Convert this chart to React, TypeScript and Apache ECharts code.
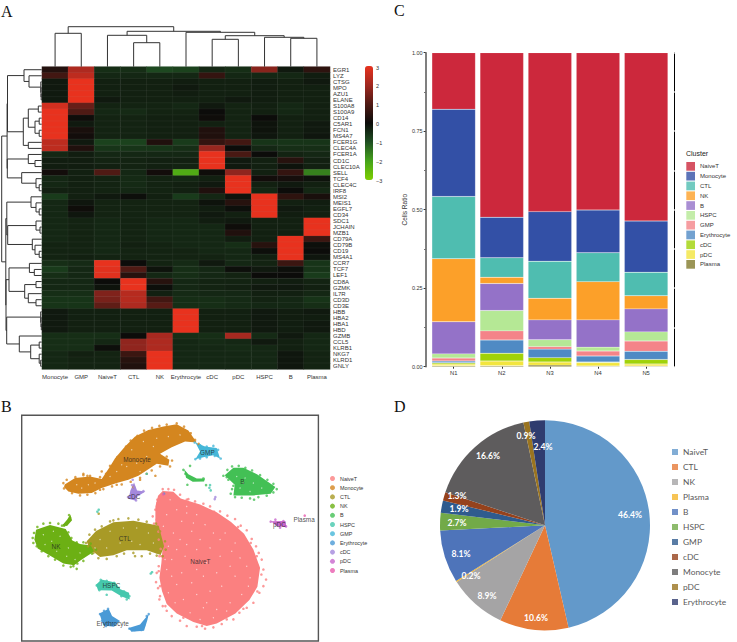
import React, { useEffect, useRef } from "react";
import * as echarts from "echarts";

const SANS = "Liberation Sans";
const SERIF = "Liberation Serif";
const OFFICE = "Lato";

// ---------- Panel A ----------
const genes = ["EGR1","LYZ","CTSG","MPO","AZU1","ELANE","S100A8","S100A9","CD14","C5AR1","FCN1","MS4A7","FCER1G","CLEC4A","FCER1A","CD1C","CLEC10A","SELL","TCF4","CLEC4C","IRF8","MSI2","MEIS1","EGFL7","CD34","SDC1","JCHAIN","MZB1","CD79A","CD79B","CD19","MS4A1","CCR7","TCF7","LEF1","CD8A","GZMK","IL7R","CD3D","CD3E","HBB","HBA2","HBA1","HBD","GZMB","CCL5","KLRB1","NKG7","KLRD1","GNLY"];
const heatColumns = ["Monocyte","GMP","NaiveT","CTL","NK","Erythrocyte","cDC","pDC","HSPC","B","Plasma"];
const expression = [
  [0.35,2.2,-0.5,-0.5,-0.9,-0.8,-0.4,-0.5,1.7,-0.2,0.5],
  [0.8,2.4,-0.4,-0.4,-0.4,-0.4,0.6,-0.4,-0.4,-0.4,-0.25],
  [-0.2,3,-0.3,-0.3,-0.3,-0.25,-0.3,-0.3,-0.25,-0.3,-0.2],
  [-0.2,3,-0.3,-0.3,-0.3,-0.2,-0.3,-0.3,-0.25,-0.3,-0.3],
  [-0.2,3,-0.3,-0.3,-0.3,-0.25,-0.3,-0.3,-0.25,-0.3,-0.3],
  [-0.2,3,-0.2,-0.3,-0.3,-0.3,-0.3,-0.2,-0.25,-0.3,-0.3],
  [2.7,1.3,-0.35,-0.35,-0.35,-0.4,-0.2,-0.35,-0.3,-0.4,-0.3],
  [3,1,-0.4,-0.45,-0.35,-0.35,0,-0.35,-0.3,-0.4,-0.3],
  [3,0.05,-0.35,-0.35,-0.3,-0.3,0.05,-0.35,0,-0.3,-0.3],
  [3,-0.2,-0.35,-0.35,-0.3,-0.3,-0.3,-0.35,-0.1,-0.3,-0.2],
  [3,0.2,-0.35,-0.35,-0.3,-0.3,0.3,-0.35,-0.1,-0.3,-0.2],
  [3,0.1,-0.35,-0.35,-0.3,-0.3,0.3,-0.35,-0.15,-0.3,-0.15],
  [2.4,-0.2,-0.8,-0.8,0.3,-0.7,0.6,0.8,-0.6,-0.6,-0.6],
  [2.4,0.3,-0.6,-0.6,-0.6,-0.5,1.9,0,-0.4,-0.5,-0.5],
  [-0.4,-0.25,-0.4,-0.4,-0.4,-0.4,3,0.9,0,-0.35,-0.4],
  [-0.25,-0.25,-0.35,-0.35,-0.3,-0.3,3,-0.2,-0.3,0.4,-0.3],
  [-0.25,-0.25,-0.3,-0.35,-0.3,-0.35,3,-0.2,-0.3,-0.1,-0.3],
  [0.1,-0.3,1,-0.4,0.1,-2.2,0.05,1.8,-0.3,0.6,-1.6],
  [-0.4,-0.3,-0.35,-0.45,-0.35,-0.4,-0.3,3,0.1,0.15,-0.1],
  [-0.4,-0.3,-0.35,-0.45,-0.35,-0.3,-0.2,3,-0.3,-0.2,-0.3],
  [-0.3,-0.3,-0.35,-0.4,-0.35,-0.3,0.3,3,-0.4,0,-0.4],
  [-0.7,-0.3,-0.2,-0.05,-0.3,-0.7,-0.4,-0.1,3,0.5,0.2],
  [-0.4,-0.15,-0.35,-0.35,-0.35,-0.35,-0.1,0.4,3,-0.3,-0.25],
  [-0.4,0.05,-0.35,-0.35,-0.35,-0.35,-0.25,-0.05,3,-0.2,-0.3],
  [-0.4,-0.15,-0.35,-0.35,-0.35,-0.35,-0.2,-0.3,3,-0.25,-0.3],
  [-0.4,-0.35,-0.4,-0.35,-0.4,-0.4,-0.25,-0.2,-0.3,-0.3,3],
  [-0.4,-0.35,-0.4,-0.35,-0.4,-0.4,-0.4,0.05,-0.3,-0.3,3],
  [-0.4,-0.35,-0.4,-0.35,-0.4,-0.4,-0.4,0.3,-0.3,-0.3,3],
  [-0.4,-0.35,-0.4,-0.35,-0.4,-0.4,-0.4,-0.25,-0.3,3,0.7],
  [-0.35,-0.35,-0.4,-0.3,-0.35,-0.4,-0.4,-0.5,0.4,3,-0.05],
  [-0.35,-0.35,-0.4,-0.35,-0.35,-0.35,-0.4,-0.4,-0.05,3,0],
  [-0.35,-0.3,-0.35,-0.35,-0.35,-0.35,-0.35,-0.4,-0.3,3,-0.15],
  [-0.5,-0.45,3,0,-0.35,-0.45,-0.2,-0.4,-0.35,0.7,-0.6],
  [-0.7,-0.4,2.9,1,-0.1,-0.5,-0.4,-0.05,-0.2,-0.05,-0.6],
  [-0.5,-0.4,2.9,0.4,-0.4,-0.5,-0.4,-0.35,0,0,-0.7],
  [-0.4,-0.4,0,3,0.4,-0.4,-0.35,-0.35,-0.3,-0.25,-0.35],
  [-0.4,-0.4,-0.1,3,-0.05,-0.4,-0.35,-0.3,-0.2,-0.2,-0.3],
  [-0.5,-0.5,1.6,2.3,-0.3,-0.45,-0.4,-0.4,-0.3,-0.3,-0.4],
  [-0.6,-0.6,1.5,2.3,0.8,-0.5,-0.5,-0.45,-0.35,-0.4,-0.6],
  [-0.6,-0.6,1.2,2.2,1.1,-0.5,-0.5,-0.45,-0.4,-0.4,-0.5],
  [-0.2,-0.3,-0.3,-0.3,-0.3,3,-0.3,-0.3,-0.2,-0.25,-0.2],
  [-0.2,-0.3,-0.3,-0.3,-0.3,3,-0.3,-0.3,-0.2,-0.25,-0.25],
  [-0.2,-0.3,-0.3,-0.3,-0.3,3,-0.3,-0.3,-0.2,-0.25,-0.2],
  [-0.2,-0.3,-0.3,-0.3,-0.3,3,-0.3,-0.3,-0.2,-0.25,-0.2],
  [-0.5,-0.5,-0.5,0,2.1,-0.5,-0.5,2.1,-0.45,-0.2,-0.4],
  [-0.5,-0.5,-0.4,1.8,2.2,-0.4,-0.45,-0.4,-0.2,-0.3,-0.4],
  [-0.5,-0.5,-0.05,1.8,2.2,-0.4,-0.4,-0.45,-0.4,-0.3,-0.4],
  [-0.4,-0.3,-0.35,0.7,3,-0.4,-0.4,-0.4,-0.4,-0.15,-0.35],
  [-0.4,-0.35,-0.35,0.4,3,-0.4,-0.4,-0.4,-0.4,-0.15,-0.35],
  [-0.4,-0.35,-0.35,0.3,3,-0.4,-0.4,-0.4,-0.4,-0.15,-0.35],
];
const scaleTicks = ["3","2","1","0","−1","−2","−3"];
const scaleStops = ["#7ecf00","#45a31a","#1f4f22","#0c0c0a","#4f1a14","#a02820","#e8321e"];

type Tree = number | [number, Tree, Tree];
const colTree: Tree = [40,
  [33.4, 0, 1],
  [35.4,
    [31.4, 2, [24, 3, 4]],
    [34.4, 5, [31, [27.4, 6, 7], [29.4, 8, [28.4, 9, 10]]]],
  ],
];
const rowTree: Tree = [40,
  [34.6,
    [34.2,
      [17.7, 0, [12.7, 1, [0.9, 2, [0.7, 3, [0.5, 4, 5]]]]],
      [18.4,
        [13.4, [3.4, 6, 7], [6.7, [2.5, 8, 9], [2.5, 10, 11]]],
        [13.4, 12, 13],
      ],
    ],
    [34.4,
      [13.4, 14, [6.7, 15, 16]],
      [20, 17, [5.7, 18, [2.5, 19, 20]]],
    ],
  ],
  [35.9,
    [34.9,
      [10.7, 21, [5.7, 22, [2.5, 23, 24]]],
      [34,
        [5.7, 25, [1.7, 26, 27]],
        [9.4, 28, [6.7, 29, [2.5, 30, 31]]],
      ],
    ],
    [35.7,
      [32.7,
        [12.3, 32, [7.4, 33, 34]],
        [17, [5.7, 35, 36], [13.4, 37, [5.7, 38, 39]]],
      ],
      [35,
        [1, 40, [0.7, 41, [0.4, 42, 43]]],
        [22.4, 44, [11, [2.5, 45, 46], [2.5, 47, [1, 48, 49]]]],
      ],
    ],
  ],
];

// ---------- Panel B ----------
const clusters = ["NaiveT","Monocyte","CTL","NK","B","HSPC","GMP","Erythrocyte","cDC","pDC","Plasma"];
const tsneColors = ["#fb8080","#d4861f","#a89a26","#6cb014","#43c055","#45c8ad","#45b7d8","#4a9ad6","#a488dc","#c866cc","#e85cae"];

const naiveTShape = [[488,274],[520,276],[542,296],[600,314],[650,338],[692,366],[732,402],[760,450],[780,505],[772,562],[748,602],[706,642],[650,672],[620,680],[580,668],[530,642],[500,614],[486,575],[478,535],[484,490],[488,440],[480,405],[466,370],[466,320],[474,288]];
const monocyteShape = [[194,254],[225,235],[270,230],[305,238],[330,200],[345,175],[375,140],[405,110],[445,90],[490,80],[530,73],[565,92],[590,128],[555,125],[515,142],[480,162],[508,180],[505,198],[470,192],[445,208],[415,228],[385,240],[350,250],[305,265],[275,280],[235,282],[205,275],[192,262]];
const gmpShape = [[586,128],[615,140],[650,144],[660,176],[640,166],[610,172],[586,178],[600,155]];
const bShape = [[674,226],[700,204],[730,204],[772,224],[826,262],[812,282],[760,287],[700,287],[704,255]];
const bStripShape = [[552,208],[565,223],[590,236],[615,236],[612,245],[578,246],[558,234]];
const ctlShape = [[260,425],[288,394],[340,368],[400,363],[450,373],[476,378],[492,440],[482,466],[440,452],[380,452],[340,467],[300,472],[268,447]];
const nkShape = [[103,420],[108,390],[150,376],[197,388],[217,423],[240,433],[272,438],[282,456],[242,482],[222,497],[190,492],[148,467],[113,447]];
const nkBudShape = [[211,345],[216,362],[201,379],[187,377],[201,360]];
const hspcShape = [[288,556],[304,540],[346,549],[361,569],[387,580],[389,600],[365,591],[335,573],[294,572]];
const eryUpperShape = [[298,642],[326,628],[336,650],[360,665],[342,682],[310,678]];
const eryLowerShape = [[386,686],[420,675],[446,644],[442,662],[432,694],[394,697]];
const cdcShape = [[391,272],[402,248],[411,272],[436,275],[411,291],[408,303],[384,297],[389,282]];
const pdcShape = [[813,365],[856,364],[859,383],[830,380]];
const shapeClusters = [0,1,6,4,4,2,3,3,5,7,7,8,9];
const shapes = [naiveTShape,monocyteShape,gmpShape,bShape,bStripShape,ctlShape,nkShape,nkBudShape,hspcShape,eryUpperShape,eryLowerShape,cdcShape,pdcShape];

const naiveTPoints = [[472,300],[466,330],[458,350],[462,372],[475,396],[476,420],[482,448],[478,470],[476,500],[470,520],[468,548],[474,566],[480,590],[478,600],[488,620],[500,634],[515,650],[540,664],[560,680],[590,682],[615,688],[640,684],[665,674],[700,660],[718,640],[740,625],[760,610],[778,580],[790,560],[798,540],[790,510],[785,480],[776,460],[768,440],[755,418],[740,392],[722,378],[705,358],[682,348],[660,335],[630,320],[610,312],[585,305],[565,298],[540,285],[522,270],[505,268],[488,268],[784,525],[772,576],[730,628],[680,660],[606,680],[550,655],[496,620],[480,560],[476,515],[484,470],[470,360],[472,310],[560,300],[642,336],[714,382],[752,430],[770,470]];
const monocytePoints = [[190,250],[200,240],[226,232],[250,226],[270,228],[300,232],[318,222],[330,198],[340,196],[352,172],[366,160],[378,140],[392,122],[412,108],[432,92],[456,84],[478,78],[500,74],[530,70],[552,80],[572,100],[585,120],[596,132],[500,170],[516,182],[510,200],[480,200],[455,212],[420,234],[392,246],[365,254],[336,260],[310,268],[286,280],[262,285],[240,287],[216,280],[305,215],[262,228],[250,222],[420,240],[400,262],[440,222],[466,228],[192,266],[350,255],[300,270]];
const ctlPoints = [[258,430],[268,405],[285,390],[305,380],[330,365],[355,358],[385,356],[415,360],[440,366],[468,372],[480,395],[495,425],[497,450],[488,470],[470,468],[450,462],[425,470],[400,460],[372,462],[350,470],[320,478],[295,476],[280,460],[405,470],[470,458],[296,342],[264,440],[340,362]];
const nkPoints = [[98,415],[100,430],[102,400],[112,382],[130,372],[150,370],[175,372],[192,378],[205,398],[214,415],[230,428],[250,428],[272,432],[288,450],[276,462],[250,484],[232,492],[212,502],[190,498],[165,480],[145,470],[125,455],[110,440],[207,346],[210,354],[194,376],[186,378],[230,508],[220,500]];
const bPoints = [[670,228],[682,210],[696,200],[716,198],[736,204],[756,212],[780,226],[802,240],[820,252],[830,268],[820,278],[800,288],[775,292],[750,296],[725,294],[705,292],[692,282],[696,268],[700,258],[685,240],[680,232],[762,300],[550,210],[570,198],[562,255],[610,236],[618,256],[556,222]];
const hspcPoints = [[290,558],[302,541],[320,544],[342,550],[356,566],[372,576],[388,590],[380,600],[364,590],[320,586],[298,572],[630,256],[632,272],[628,264],[296,330],[292,336],[440,222],[456,518],[452,522]];
const gmpPoints = [[584,128],[600,136],[620,140],[640,138],[654,150],[662,176],[644,168],[620,172],[600,176],[586,178]];
const eryPoints = [[300,644],[312,634],[324,628],[328,644],[306,664],[318,680],[344,676],[388,688],[404,692],[424,692],[432,678],[440,650],[446,644],[492,282]];
const cdcPoints = [[398,240],[402,262],[396,256],[430,274],[384,292],[408,302],[646,292],[644,298]];
const pdcPoints = [[812,366],[826,360],[850,364],[858,380],[840,384]];
const plasmaPoints = [[914,348],[490,284]];
const tsnePoints = [naiveTPoints,monocytePoints,ctlPoints,nkPoints,bPoints,hspcPoints,gmpPoints,eryPoints,cdcPoints,pdcPoints,plasmaPoints];
// pale specks where the dense point clouds leave the page showing through
const cloudGaps = [[510,300],[530,330],[500,345],[545,365],[490,380],[520,400],[560,340],[590,345],[615,375],[575,395],[540,420],[505,440],[600,420],[640,400],[660,420],[630,445],[590,450],[555,470],[515,480],[500,510],[545,520],[590,510],[620,490],[660,470],[695,455],[720,475],[690,500],[650,520],[610,530],[575,550],[530,555],[505,580],[550,600],[590,585],[630,575],[665,560],[705,530],[740,500],[750,535],[725,585],[690,610],[650,630],[610,625],[570,640],[525,610],[600,660],[640,655],[530,450],[675,400],[560,435],[705,430],[495,480],[515,530],[620,610],[680,635],[745,560],[560,320],[580,370],
  [230,255],[265,255],[330,230],[350,215],[380,200],[410,190],[440,170],[395,150],[430,125],[470,115],[505,110],[540,105],[365,195],[420,215],[285,250],[245,265],[460,140],
  [300,420],[330,395],[370,385],[410,385],[445,400],[320,445],[360,430],[420,435],[460,430],[285,445],[395,425],
  [130,405],[160,395],[180,410],[135,435],[170,455],[200,470],[240,460],[205,445],[155,425],[225,480],
  [710,230],[735,235],[760,250],[785,265],[720,265],[750,275],[730,250]];
const clusterLabels: [string, number, number][] = [["NaiveT",601,487],["Monocyte",411,178],["CTL",374,416],["NK",168,441],["B",727,245],["GMP",622,157],["cDC",402,289],["pDC",838,374],["Plasma",912,358],["HSPC",334,559],["Erythrocyte",338,671]];

// ---------- Panel C ----------
const samples = ["N1","N2","N3","N4","N5"];
const barColors = ["#cc283c","#3350a6","#4fbdb0","#fca029","#9472c8","#b5e895","#f48489","#4f8ac4","#a0d208","#f3e53e","#827a2c"];
const ratioNaiveT = [0.18,0.524,0.506,0.501,0.536];
const ratioMonocyte = [0.278,0.129,0.158,0.136,0.163];
const ratioCTL = [0.198,0.062,0.118,0.092,0.075];
const ratioNK = [0.201,0.02,0.069,0.122,0.042];
const ratioB = [0.102,0.086,0.063,0.0865,0.073];
const ratioHSPC = [0.0135,0.065,0.022,0.0125,0.029];
const ratioGMP = [0.0095,0.029,0.008,0.016,0.033];
const ratioErythrocyte = [0.0053,0.042,0.027,0.019,0.026];
const ratioCDC = [0.0042,0.025,0.014,0.0023,0.0145];
const ratioPDC = [0.0055,0.015,0.01,0.0107,0.0065];
const ratioPlasma = [0.003,0.003,0.005,0.002,0.002];
const ratios = [ratioNaiveT,ratioMonocyte,ratioCTL,ratioNK,ratioB,ratioHSPC,ratioGMP,ratioErythrocyte,ratioCDC,ratioPDC,ratioPlasma];

// ---------- Panel D ----------
const pieNames = ["NaiveT","CTL","NK","Plasma","B","HSPC","GMP","cDC","Monocyte","pDC","Erythrocyte"];
const pieValues = [46.4,10.6,8.9,0.2,8.1,2.7,1.9,1.3,16.6,0.9,2.4];
const pieColors = ["#6399ca","#e67b38","#a5a4a5","#f5b52a","#4e74ba","#72aa48","#2f5b8e","#96421c","#5e5c5d","#9a7420","#2f3c6f"];
const pieLabelAnchors = [[630,515],[536,618],[487,596],[471,576],[461,554],[457,523],[459,509],[457,496],[488,456],[526,436],[543,447]];

function flatten(node: Tree, out: number[][]): { pos: number; h: number } {
  if (typeof node === "number") return { pos: node + 0.5, h: 0 };
  const a = flatten(node[1], out);
  const b = flatten(node[2], out);
  out.push([a.pos, b.pos, a.h, b.h, node[0]]);
  return { pos: (a.pos + b.pos) / 2, h: node[0] };
}
const merges = (t: Tree) => {
  const out: number[][] = [];
  flatten(t, out);
  return out;
};

const dendro = (horizontal: boolean) => (_p: any, api: any) => {
  const [p1, p2, h1, h2, top] = [0, 1, 2, 3, 4].map((i) => api.value(i));
  const at = (pos: number, h: number) => api.coord(horizontal ? [h, pos] : [pos, h]);
  return {
    type: "polyline",
    shape: { points: [at(p1, h1), at(p1, top), at(p2, top), at(p2, h2)] },
    style: { stroke: "#333", lineWidth: 1, fill: "none" },
  };
};

const hidden = { show: false };

const App = () => {
  const ref = useRef<HTMLDivElement>(null);
  useEffect(() => {
    const chart = echarts.init(ref.current!, undefined, { renderer: "svg" });
    const cells: number[][] = [];
    expression.forEach((row, y) => row.forEach((v, x) => cells.push([x, y, v])));

    const option: any = {
      animation: false,
      backgroundColor: "#fff",
      textStyle: { fontFamily: SANS },
      grid: [
        { left: 42, top: 66.7, width: 288, height: 302.6 },
        { left: 42, top: 16.7, width: 288, height: 50 },
        { left: 0, top: 66.7, width: 41.7, height: 302.6 },
        { left: 21.7, top: 415.3, width: 296.7, height: 225.7, show: true, borderColor: "#555", borderWidth: 1.4, backgroundColor: "#fff" },
        { left: 429.6, top: 52.7, width: 240.6, height: 314 },
      ],
      xAxis: [
        { gridIndex: 0, type: "category", data: heatColumns, position: "bottom", axisLine: hidden, axisTick: hidden, splitLine: hidden,
          axisLabel: { interval: 0, fontSize: 6, color: "#333", margin: 5, fontFamily: SANS } },
        { gridIndex: 1, type: "value", min: 0, max: 11, show: false },
        { gridIndex: 2, type: "value", min: 0, max: 41.7, inverse: true, show: false },
        { gridIndex: 3, type: "value", min: 65, max: 955, show: false },
        { gridIndex: 4, type: "category", data: samples, axisLine: hidden, axisTick: { show: true, length: 2, lineStyle: { color: "#333" }, alignWithLabel: true },
          axisLabel: { fontSize: 5.8, color: "#333", margin: 3, fontFamily: SANS } },
      ],
      yAxis: [
        { gridIndex: 0, type: "category", data: genes, inverse: true, position: "right", axisLine: hidden, axisTick: hidden, splitLine: hidden,
          axisLabel: { interval: 0, fontSize: 6, color: "#333", margin: 3, fontFamily: SANS } },
        { gridIndex: 1, type: "value", min: 0, max: 50, show: false },
        { gridIndex: 2, type: "value", min: 0, max: 50, inverse: true, show: false },
        { gridIndex: 3, type: "value", min: 46, max: 725, inverse: true, show: false },
        { gridIndex: 4, type: "value", min: 0, max: 1, interval: 0.25, offset: 4, position: "left",
          name: "Cells Ratio", nameLocation: "middle", nameGap: 15, nameTextStyle: { fontSize: 6.5, color: "#333", fontFamily: SANS },
          splitLine: hidden,
          axisLine: { show: true, lineStyle: { color: "#555", width: 1.5 } },
          axisTick: { show: true, length: 2, lineStyle: { color: "#333" } },
          minorTick: { show: true, splitNumber: 2, length: 1.5, lineStyle: { color: "#666" } },
          axisLabel: { fontSize: 5.5, color: "#333", margin: 3, formatter: (v: number) => v.toFixed(2), fontFamily: SANS } },
        { gridIndex: 4, type: "value", min: 0, max: 1, interval: 0.125, offset: 4, position: "right",
          splitLine: hidden,
          axisLine: { show: true, lineStyle: { color: "#000", width: 1 } },
          axisTick: { show: true, length: 2, lineStyle: { color: "#fff", width: 1.5 } },
          axisLabel: { show: false } },
      ],
      visualMap: {
        type: "continuous", min: -3, max: 3, seriesIndex: 0, calculable: false, hoverLink: false,
        left: 365, top: 66, itemWidth: 8, itemHeight: 114, text: ["", ""], padding: 0,
        inRange: { color: scaleStops },
      },
      legend: [
        { orient: "vertical", left: 330, top: 476, padding: 0, icon: "circle", itemWidth: 5, itemHeight: 5, itemGap: 4.2, selectedMode: false,
          textStyle: { fontSize: 5.4, color: "#333", lineHeight: 5, fontFamily: SANS },
          data: clusters.map((name, i) => ({ name, itemStyle: { color: tsneColors[i] } })) },
        { orient: "vertical", left: 686.3, top: 162, padding: 0, icon: "rect", itemWidth: 8.7, itemHeight: 8.7, itemGap: 1.1, selectedMode: false,
          textStyle: { fontSize: 6, color: "#333", lineHeight: 8, fontFamily: SANS },
          data: clusters.map((name, i) => ({ name, itemStyle: { color: barColors[i] } })) },
        { orient: "vertical", left: 672, top: 448, padding: 0, icon: "rect", itemWidth: 6, itemHeight: 6, itemGap: 7, selectedMode: false,
          textStyle: { fontSize: 8.4, color: "#595959", lineHeight: 6, fontFamily: OFFICE },
          data: pieNames.map((name, i) => ({ name, itemStyle: { color: pieColors[i] } })) },
      ],
      series: [
        { type: "heatmap", xAxisIndex: 0, yAxisIndex: 0, data: cells, silent: true,
          itemStyle: { borderColor: "rgba(170,170,170,0.16)", borderWidth: 0.5 }, progressive: 0 },
        { type: "custom", name: "colTree", xAxisIndex: 1, yAxisIndex: 1, data: merges(colTree), renderItem: dendro(false), silent: true },
        { type: "custom", name: "rowTree", xAxisIndex: 2, yAxisIndex: 2, data: merges(rowTree), renderItem: dendro(true), silent: true },
        { type: "custom", name: "clusterShapes", xAxisIndex: 3, yAxisIndex: 3, silent: true, z: 1,
          data: shapes.map((s, i) => [s[0][0], s[0][1], i]),
          renderItem: (_p: any, api: any) => {
            const i = api.value(2);
            return { type: "polygon", shape: { points: shapes[i].map((pt) => api.coord(pt)) }, style: { fill: tsneColors[shapeClusters[i]] } };
          } },
        ...clusters.map((name, i) => ({
          type: "scatter", name, xAxisIndex: 3, yAxisIndex: 3, data: tsnePoints[i], symbolSize: 2.6, silent: true, z: 2,
          itemStyle: { color: tsneColors[i] },
        })),
        { type: "scatter", name: "cloudGaps", xAxisIndex: 3, yAxisIndex: 3, data: cloudGaps, symbolSize: 1.3, silent: true, z: 3,
          itemStyle: { color: "rgba(255,255,255,0.8)" } },
        { type: "scatter", name: "clusterNames", xAxisIndex: 3, yAxisIndex: 3, silent: true, z: 4, symbolSize: 1,
          data: clusterLabels.map(([n, x, y]) => ({ name: n, value: [x, y] })),
          itemStyle: { color: "transparent" },
          labelLayout: { hideOverlap: false },
          label: { show: true, position: "inside", formatter: "{b}", fontSize: 6.4, color: "#222", fontFamily: SANS } },
        ...clusters.map((name, i) => ({
          type: "bar", name, xAxisIndex: 4, yAxisIndex: 4, stack: "cells", barWidth: 43.5, silent: true,
          data: ratios[i],
          itemStyle: { color: barColors[i], borderColor: "rgba(255,255,255,0.35)", borderWidth: 0.4 },
        })).reverse(),
        { type: "pie", name: "share", center: [545, 525.3], radius: [0, 105], startAngle: 90, clockwise: true, silent: true, avoidLabelOverlap: false,
          data: pieNames.map((name, i) => ({ name, value: pieValues[i], itemStyle: { color: pieColors[i] } })),
          label: { show: true, position: "inside", formatter: (p: any) => `${p.value.toFixed(1)}%`, fontSize: 8.6, fontWeight: "bold", color: "#fff", fontFamily: OFFICE },
          labelLine: { show: false },
          labelLayout: (p: any) => ({ x: pieLabelAnchors[p.dataIndex][0], y: pieLabelAnchors[p.dataIndex][1], align: "center", verticalAlign: "middle" }) },
      ],
      graphic: [
        { type: "text", left: 1, top: 3, style: { text: "A", font: `16px ${SERIF}`, fill: "#111" } },
        { type: "text", left: 1, top: 398, style: { text: "B", font: `16px ${SERIF}`, fill: "#111" } },
        { type: "text", left: 394, top: 2, style: { text: "C", font: `16px ${SERIF}`, fill: "#111" } },
        { type: "text", left: 394, top: 398, style: { text: "D", font: `16px ${SERIF}`, fill: "#111" } },
        { type: "text", left: 686, top: 150, style: { text: "Cluster", font: `7px ${SANS}`, fill: "#222" } },
        ...scaleTicks.map((t, i) => ({
          type: "text", left: 376, top: 64.5 + i * 18.95, style: { text: t, font: `5.5px ${SANS}`, fill: "#333" },
        })),
      ],
    };
    chart.setOption(option);
    return () => chart.dispose();
  }, []);
  return <div ref={ref} style={{ position: "absolute", left: 0, top: 0, width: 737, height: 642 }} />;
};

export default App;
